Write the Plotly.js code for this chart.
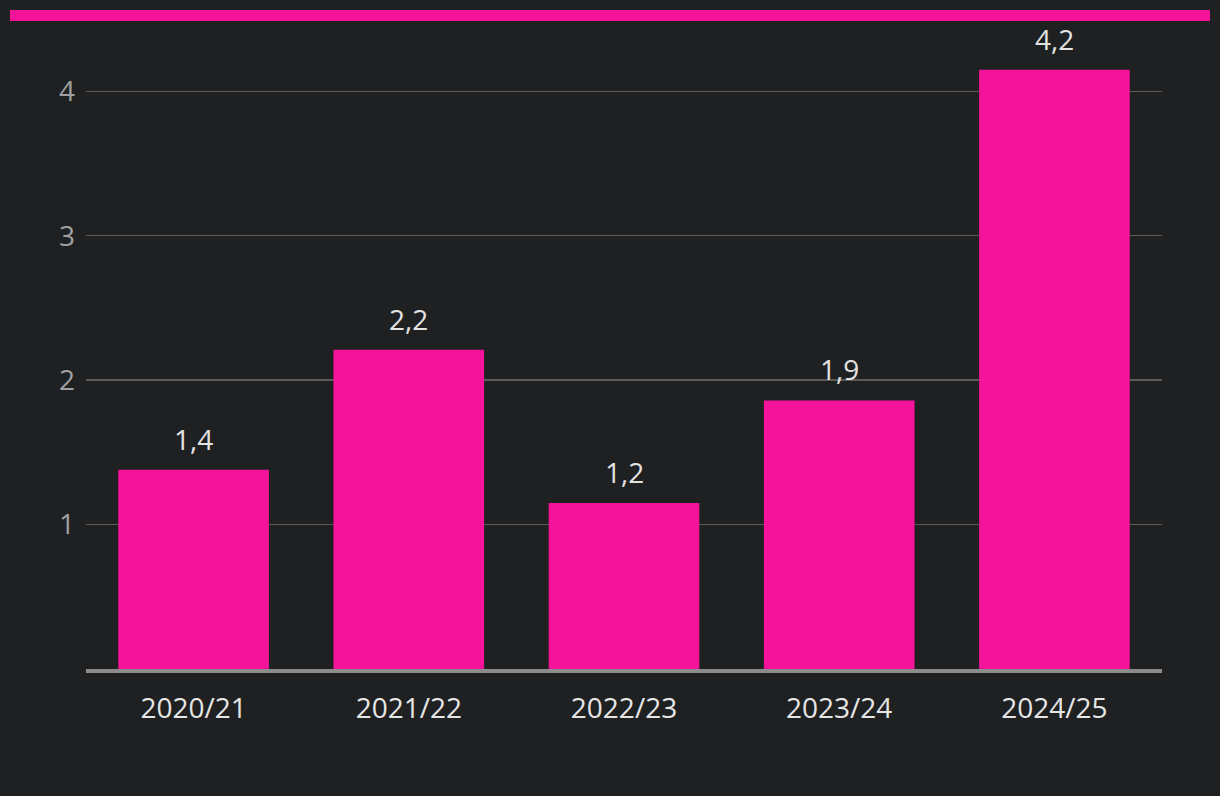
<!DOCTYPE html>
<html>
<head>
<meta charset="utf-8">
<script src="https://cdn.plot.ly/plotly-3.0.1.min.js"></script>
<style>
html,body{margin:0;padding:0;background:#1f2022;}
#wrap{position:relative;width:1220px;height:796px;}
#topbar{position:absolute;left:10px;top:10px;width:1200px;height:11px;background:#f5139a;z-index:5;}
#chart{position:absolute;left:0;top:0;width:1220px;height:796px;}
</style>
</head>
<body>
<div id="wrap"><div id="chart"></div><div id="topbar"></div></div>
<script>
const categories = ["2020/21", "2021/22", "2022/23", "2023/24", "2024/25"];
const values = [1.38, 2.21, 1.15, 1.86, 4.15];
const labels = ["1,4", "2,2", "1,2", "1,9", "4,2"];
const yTicks = [1, 2, 3, 4];

const FONT = "Open Sans, Noto Sans, sans-serif";

const trace = {
  type: "bar",
  x: categories,
  y: values,
  marker: {color: "#f5139a"},
  hoverinfo: "skip"
};

const annotations = categories.map((c, i) => ({
  x: c, y: values[i], text: labels[i],
  xref: "x", yref: "y",
  showarrow: false, yanchor: "bottom", yshift: 10,
  font: {family: FONT, size: 28, color: "#e3e3e3"}
}));

const layout = {
  width: 1220, height: 796,
  paper_bgcolor: "#1f2022",
  plot_bgcolor: "#1f2022",
  margin: {l: 86, r: 58, t: 48, b: 127},
  bargap: 0.3,
  showlegend: false,
  xaxis: {
    type: "category",
    range: [-0.5, 4.5],
    showgrid: false,
    showline: true, linecolor: "#8c8c8c", linewidth: 3.5,
    ticks: "",
    ticklabelstandoff: 12,
    tickfont: {family: FONT, size: 28, color: "#e6e6e6"},
    fixedrange: true
  },
  yaxis: {
    range: [0, 4.3],
    tickvals: yTicks,
    ticktext: yTicks.map(String),
    showgrid: true, gridcolor: "#5a5a5a", gridwidth: 1.5,
    zeroline: false, showline: false,
    ticks: "",
    ticklabelstandoff: 10,
    tickfont: {family: FONT, size: 28, color: "#a0a0a0"},
    fixedrange: true
  },
  annotations: annotations
};

Plotly.newPlot("chart", [trace], layout, {displayModeBar: false, staticPlot: true});
</script>
</body>
</html>
